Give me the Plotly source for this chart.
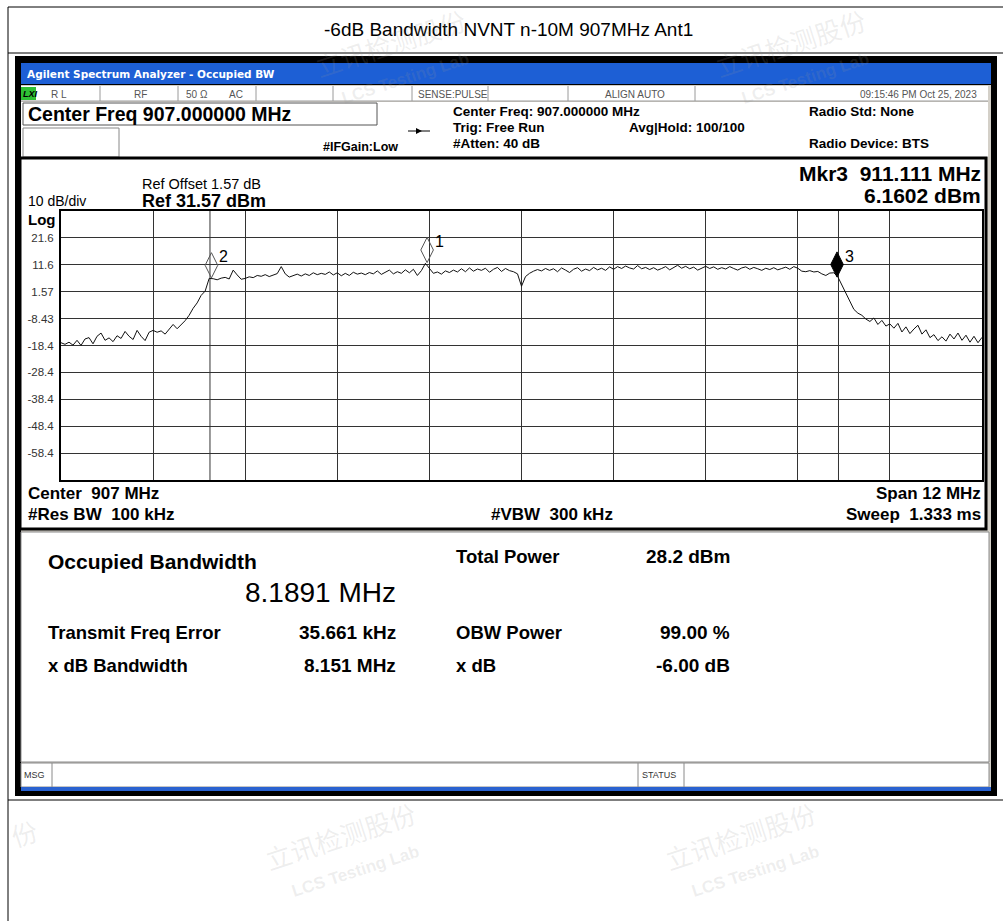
import numpy as np
import plotly.graph_objects as go

W, H = 1003, 921

# ---------------- data ----------------
page_title = "-6dB Bandwidth NVNT n-10M 907MHz Ant1"
start_mhz = 901.0
stop_mhz = 913.0
ref_level_dbm = 31.57
db_per_div = 10
n_div = 10

# averaged trace, read every ~4 px across the 12 MHz span
trace_dbm = [
    -17.4, -18.0, -17.2, -18.3, -16.5, -18.4, -16.0, -15.5, -17.8, -15.0,
    -13.8, -16.5, -15.6, -17.0, -14.8, -15.8, -13.2, -15.0, -16.2, -12.8,
    -15.0, -16.6, -13.5, -12.8, -13.5, -13.0, -14.2, -12.6, -10.6, -12.2,
    -10.8, -9.2, -7.2, -4.6, -2.6, 0.2, 1.8, 6.5, 6.4, 6.0,
    6.6, 6.9, 6.3, 9.6, 7.8, 6.2, 6.5, 7.1, 6.8, 7.6,
    7.3, 7.9, 7.2, 7.8, 8.3, 10.9, 8.2, 7.0, 7.6, 8.1,
    7.4, 8.2, 7.6, 8.6, 7.9, 8.4, 8.0, 8.9, 7.8, 8.6,
    7.5, 8.4, 7.6, 8.8, 8.1, 8.5, 7.9, 8.7, 8.2, 9.3,
    8.0, 8.9, 9.6, 8.2, 9.0, 8.4, 9.7, 8.6, 9.9, 7.6,
    9.4, 12.1, 10.2, 8.4, 8.9, 8.1, 9.3, 8.7, 9.6, 8.9,
    10.1, 9.0, 10.4, 9.2, 10.0, 9.5, 10.3, 8.8, 9.9, 10.6,
    9.1, 10.2, 9.4, 9.0, 8.2, 3.6, 7.2, 8.4, 9.2, 9.8,
    9.3, 10.2, 9.5, 10.1, 9.0, 10.4, 9.6, 8.7, 9.9, 10.5,
    9.2, 10.0, 9.4, 10.6, 9.7, 10.3, 9.5, 10.8, 9.9, 10.9,
    10.2, 11.1, 10.4, 10.0, 11.3, 10.1, 10.6, 9.8, 10.5, 9.6,
    10.2, 10.9, 9.7, 10.6, 11.4, 10.3, 11.0, 10.1, 10.7, 9.6,
    10.4, 11.0, 10.2, 10.8, 9.9, 10.5, 10.0, 10.9, 10.2, 9.6,
    10.4, 10.8, 9.9, 10.6, 10.1, 9.5, 10.3, 9.8, 10.5, 9.7,
    10.2, 10.7, 9.9, 10.9, 10.3, 9.2, 9.0, 9.4, 8.9, 9.1,
    8.2, 7.6, 8.5, 8.6, 7.1, 4.0, 1.5, -2.0, -5.0, -6.4,
    -7.2, -8.6, -9.5, -8.2, -10.6, -9.1, -11.2, -10.4, -12.0, -10.2,
    -13.4, -11.5, -14.0, -12.3, -10.9, -14.2, -12.6, -15.5, -14.4, -16.6,
    -15.2, -16.8, -14.2, -16.0, -13.8, -16.5, -14.6, -17.2, -15.0, -17.4,
    -15.4,
]

y_tick_labels = ["21.6", "11.6", "1.57", "-8.43", "-18.4", "-28.4", "-38.4", "-48.4", "-58.4"]

marker_names = ["1", "2", "3"]
marker_freq_mhz = [905.77, 902.96, 911.111]
marker_level_dbm = [12.4, 6.7, 7.0]
marker_filled = [False, False, True]

obw_center_mhz = 907.0 + 0.035661
obw_mhz = 8.1891

# ---------------- geometry helpers ----------------
PL, PR, PT, PB = 61, 982, 211, 480
FONT = "Liberation Sans, Arial, sans-serif"


def X(px):
    return px / W


def Y(py):
    return 1 - py / H


shapes, ann = [], []


def rect(x0, y0, x1, y1, fill=None, line=None, lw=1):
    shapes.append(dict(type="rect", xref="paper", yref="paper",
                       x0=X(x0), x1=X(x1), y0=Y(y1), y1=Y(y0),
                       fillcolor=fill if fill else "rgba(0,0,0,0)",
                       line=dict(color=line if line else "rgba(0,0,0,0)", width=lw if line else 0),
                       layer="below"))


def seg(x0, y0, x1, y1, color="black", lw=1):
    shapes.append(dict(type="line", xref="paper", yref="paper",
                       x0=X(x0), y0=Y(y0), x1=X(x1), y1=Y(y1),
                       line=dict(color=color, width=lw), layer="below"))


def text(x, y, s, size, bold=False, anchor="left", color="black", family=FONT, angle=0):
    ann.append(dict(xref="paper", yref="paper", x=X(x), y=Y(y), text=s, showarrow=False,
                    xanchor=anchor, yanchor="middle", textangle=angle,
                    font=dict(family=family, size=size, color=color,
                              weight="bold" if bold else "normal"),
                    borderpad=0))


# ---------------- page frame ----------------
seg(8, 7, 1003, 7)
seg(8, 53, 1003, 53)
seg(8, 800, 1003, 800)
seg(8, 7, 8, 921)
text(508, 29, page_title, 19, anchor="center")

# ---------------- analyzer window ----------------
rect(15, 56, 997, 796, fill="#000000")
rect(21, 63, 991, 84, fill="#1d5fd5")
text(26, 74, "Agilent Spectrum Analyzer - Occupied BW", 10.5, bold=True, color="white",
     family="DejaVu Sans, sans-serif")
rect(21, 85, 991, 788, fill="#d4d0c8")
rect(21, 86, 988, 101, fill="white")
for cx in [100, 178, 256, 333, 412, 488, 568, 695]:
    seg(cx, 86, cx, 101, "#9a9a9a")
seg(21, 101, 988, 101, "#9a9a9a")
rect(21, 87, 36, 100, fill="#2fc035")
text(22, 94, "<i>LXI</i>", 9, bold=True)
SMALL = "#555555"
text(50, 94, "R L", 10, color=SMALL)
text(133, 94, "RF", 10, color=SMALL)
text(185, 94, "50 Ω", 10, color=SMALL)
text(228, 94, "AC", 10, color=SMALL)
text(417, 94, "SENSE:PULSE", 10, color=SMALL)
text(635, 94, "ALIGN AUTO", 10, color=SMALL, anchor="center")
text(978, 94, "09:15:46 PM Oct 25, 2023", 10, color=SMALL, anchor="right")

rect(21, 102, 988, 157, fill="white")
rect(23, 103, 377, 125, fill="white", line="#555555")
text(27, 114, "Center Freq 907.000000 MHz", 19.5, bold=True)
rect(23, 128, 119, 157, fill="white", line="#888888")
seg(408, 131, 430, 131, "black", 1)
shapes.append(dict(type="path", xref="paper", yref="paper", layer="below",
                   path=f"M {X(416)},{Y(128)} L {X(422)},{Y(131)} L {X(416)},{Y(134)} Z",
                   fillcolor="black", line=dict(width=0)))
text(322, 147, "#IFGain:Low", 12.5, bold=True)
text(452, 111, "Center Freq: 907.000000 MHz", 13.5, bold=True)
text(452, 127, "Trig: Free Run", 13.5, bold=True)
text(452, 144, "#Atten: 40 dB", 13.5, bold=True)
text(628, 127, "Avg|Hold: 100/100", 13.5, bold=True)
text(808, 111, "Radio Std: None", 13.5, bold=True)
text(808, 144, "Radio Device: BTS", 13.5, bold=True)

# graph panel
rect(20, 158, 986, 529, fill="white", line="black", lw=3)
text(141, 184, "Ref Offset 1.57 dB", 14.5)
text(141, 201, "Ref 31.57 dBm", 18, bold=True)
text(27, 201, "10 dB/div", 14)
text(27, 219, "Log", 15, bold=True)
text(982, 174, "Mkr3  911.111 MHz", 21, bold=True, anchor="right")
text(982, 196, "6.1602 dBm", 21, bold=True, anchor="right")
text(27, 493, "Center  907 MHz", 17, bold=True)
text(27, 514, "#Res BW  100 kHz", 17, bold=True)
text(490, 514, "#VBW  300 kHz", 17, bold=True)
text(982, 493, "Span 12 MHz", 17, bold=True, anchor="right")
text(982, 514, "Sweep  1.333 ms", 17, bold=True, anchor="right")

# results panel
rect(21, 532, 989, 762, fill="white", line="#8a8a8a")
text(47, 561, "Occupied Bandwidth", 21, bold=True)
text(397, 592, "8.1891 MHz", 28, anchor="right")
text(47, 632, "Transmit Freq Error", 18.5, bold=True)
text(397, 632, "35.661 kHz", 19, bold=True, anchor="right")
text(47, 665, "x dB Bandwidth", 18.5, bold=True)
text(397, 665, "8.151 MHz", 19, bold=True, anchor="right")
text(455, 556, "Total Power", 18.5, bold=True)
text(731, 556, "28.2 dBm", 19, bold=True, anchor="right")
text(455, 632, "OBW Power", 18.5, bold=True)
text(731, 632, "99.00 %", 19, bold=True, anchor="right")
text(455, 665, "x dB", 18.5, bold=True)
text(731, 665, "-6.00 dB", 19, bold=True, anchor="right")

# message row
rect(21, 763, 989, 787, fill="white", line="#8a8a8a")
seg(52, 763, 52, 787, "#8a8a8a")
seg(638, 763, 638, 787, "#8a8a8a")
seg(684, 763, 684, 787, "#8a8a8a")
text(23, 775, "MSG", 9, color="#333333")
text(641, 775, "STATUS", 9, color="#333333")
rect(21, 787, 991, 791, fill="#2a62d0")

# occupied bandwidth edges (from center + error and OBW)
for edge in [obw_center_mhz - obw_mhz / 2, obw_center_mhz + obw_mhz / 2]:
    shapes.append(dict(type="line", xref="x", yref="paper", x0=edge, x1=edge,
                       y0=Y(PB), y1=Y(PT), line=dict(color="#333333", width=1), layer="below"))

# watermarks
WM = "rgba(150,150,150,0.16)"
CJK = "Noto Sans CJK SC, sans-serif"
for (wx, wy) in [(390, 42), (790, 42), (340, 835), (740, 835)]:
    text(wx, wy, "立讯检测股份", 26, color=WM, family=CJK, angle=-18, anchor="center")
    text(wx + 15, wy + 36, "LCS Testing Lab", 17, bold=True, color=WM, angle=-18, anchor="center")
text(24, 832, "份", 26, color=WM, family=CJK, angle=-18, anchor="center")

# ---------------- figure ----------------
freqs = np.linspace(start_mhz, stop_mhz, len(trace_dbm))
span = stop_mhz - start_mhz
x_grid = [start_mhz + span / n_div * k for k in range(1, n_div)]
bottom_dbm = ref_level_dbm - db_per_div * n_div
y_grid = [ref_level_dbm - db_per_div * k for k in range(1, n_div)]

fig = go.Figure()
fig.add_trace(go.Scatter(x=freqs, y=trace_dbm, mode="lines",
                         line=dict(color="#111111", width=1), hoverinfo="skip"))

px_per_db = (PB - PT) / (db_per_div * n_div)
MK_SIZE = 18
half_h_db = (1.4 * MK_SIZE / 2) / px_per_db
for name, f, lvl, filled in zip(marker_names, marker_freq_mhz, marker_level_dbm, marker_filled):
    fig.add_trace(go.Scatter(
        x=[f], y=[lvl + half_h_db], mode="markers", cliponaxis=False, hoverinfo="skip",
        marker=dict(symbol="diamond-tall" if filled else "diamond-tall-open", size=MK_SIZE,
                    color="black" if filled else "#555555",
                    line=dict(width=1, color="black" if filled else "#555555"))))
    ann.append(dict(xref="x", yref="y", x=f, y=lvl, text=name, showarrow=False,
                    xshift=12, yshift=21, xanchor="center", yanchor="middle",
                    font=dict(family=FONT, size=16, color="black")))

fig.update_layout(
    width=W, height=H, autosize=False,
    margin=dict(l=0, r=0, t=0, b=0),
    paper_bgcolor="white", plot_bgcolor="white",
    showlegend=False,
    shapes=shapes, annotations=ann,
    xaxis=dict(domain=[X(PL), X(PR)], range=[start_mhz, stop_mhz],
               tickvals=x_grid, showticklabels=False, ticks="",
               showgrid=True, gridcolor="#333333", gridwidth=1, zeroline=False,
               showline=True, mirror=True, linecolor="black", linewidth=2),
    yaxis=dict(domain=[Y(PB), Y(PT)], range=[bottom_dbm, ref_level_dbm],
               tickvals=y_grid, ticktext=y_tick_labels, ticks="",
               tickfont=dict(family=FONT, size=11.5, color="#333333"),
               ticklabelstandoff=3,
               showgrid=True, gridcolor="#333333", gridwidth=1, zeroline=False,
               showline=True, mirror=True, linecolor="black", linewidth=2),
)

fig.write_html("out.html", config={"displayModeBar": False, "staticPlot": True},
               post_script="document.body.style.margin='0';document.body.style.overflow='hidden';")
